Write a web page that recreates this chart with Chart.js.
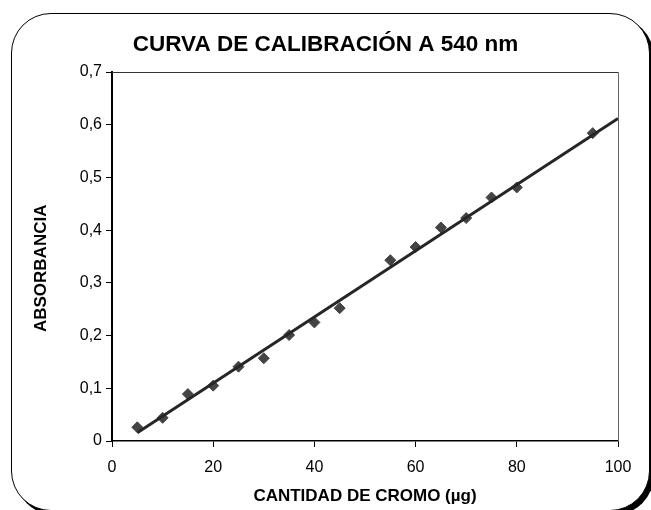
<!DOCTYPE html>
<html>
<head>
<meta charset="utf-8">
<script src="https://cdn.jsdelivr.net/npm/chart.js@4.4.1/dist/chart.umd.min.js"></script>
<style>
  body { margin: 0; background: #fff; }
  #wrap { position: relative; width: 651px; height: 510px; overflow: hidden; background: #fff; }
  #frame {
    position: absolute; left: 11px; top: 13px; width: 637px; height: 496px;
    border: 1.5px solid #000; border-radius: 40px;
    box-shadow: 4px 4px 0 #000; background: #fff;
  }
  #chart { position: absolute; left: 0; top: 0; }
</style>
</head>
<body>
<div id="wrap">
  <div id="frame"></div>
  <canvas id="chart" width="651" height="510"></canvas>
</div>
<script>
// chromium standards (µg) vs absorbance
const cantidad = [5, 10, 15, 20, 25, 30, 35, 40, 45, 55, 60, 65, 70, 75, 80, 95];
const absorbancia = [0.026, 0.044, 0.089, 0.105, 0.141, 0.157, 0.201, 0.225, 0.252,
                     0.343, 0.368, 0.405, 0.423, 0.462, 0.481, 0.584];

// trend line end points
const tendenciaX = [5, 100];
const tendenciaY = [0.0155, 0.612];

const yTickLabels = ['0', '0,1', '0,2', '0,3', '0,4', '0,5', '0,6', '0,7'];
const xTickLabels = ['0', '20', '40', '60', '80', '100'];

const FONT = "'Liberation Sans', Arial, sans-serif";

let puntos = cantidad.map((x, i) => ({x: x, y: absorbancia[i]}));
let tendencia = tendenciaX.map((x, i) => ({x: x, y: tendenciaY[i]}));

// thin lines on top and right of the plot area
const plotBorder = {
  id: 'plotBorder',
  beforeDatasetsDraw(chart) {
    const a = chart.chartArea;
    const ctx = chart.ctx;
    ctx.save();
    ctx.strokeStyle = '#333';
    ctx.lineWidth = 1;
    ctx.beginPath();
    ctx.moveTo(a.left, a.top + 0.5);
    ctx.lineTo(a.right + 0.5, a.top + 0.5);
    ctx.stroke();
    ctx.strokeStyle = '#666';
    ctx.beginPath();
    ctx.moveTo(a.right + 0.5, a.top + 0.5);
    ctx.lineTo(a.right + 0.5, a.bottom);
    ctx.stroke();
    ctx.restore();
  }
};

Chart.defaults.font.family = FONT;
Chart.defaults.color = '#000';

new Chart(document.getElementById('chart').getContext('2d'), {
  type: 'scatter',
  data: {
    datasets: [{
      type: 'line',
      data: tendencia,
      borderColor: '#262626',
      borderWidth: 3,
      pointRadius: 0,
      fill: false,
      order: 0
    }, {
      data: puntos,
      pointStyle: 'rectRot',
      pointRadius: 5.5,
      pointBackgroundColor: '#444',
      pointBorderColor: '#444',
      pointBorderWidth: 1,
      order: 1
    }]
  },
  options: {
    responsive: false,
    animation: false,
    devicePixelRatio: 1,
    layout: { padding: 0 },
    plugins: {
      legend: { display: false },
      tooltip: { enabled: false },
      title: {
        display: true,
        text: 'CURVA DE CALIBRACIÓN A 540 nm',
        color: '#000',
        font: { size: 22.5, weight: 'bold', family: FONT },
        padding: { top: 31, bottom: 14 }
      }
    },
    scales: {
      x: {
        type: 'linear',
        min: 0, max: 100,
        afterFit: (scale) => { scale.height = 69; },
        ticks: {
          stepSize: 20,
          padding: 11,
          font: { size: 16 },
          callback: (v, i) => xTickLabels[i]
        },
        grid: { drawOnChartArea: false, drawTicks: true, tickLength: 6, color: '#000' },
        border: { display: true, color: '#000', width: 1.5 },
        title: {
          display: true,
          text: 'CANTIDAD DE CROMO (µg)',
          font: { size: 17, weight: 'bold' },
          padding: { top: 0, bottom: 3 }
        }
      },
      y: {
        min: 0, max: 0.7,
        afterFit: (scale) => { scale.width = 112; },
        ticks: {
          stepSize: 0.1,
          padding: 4,
          font: { size: 16 },
          callback: (v, i) => yTickLabels[i]
        },
        grid: { drawOnChartArea: false, drawTicks: true, tickLength: 6, color: '#000' },
        border: { display: true, color: '#000', width: 2 },
        title: {
          display: true,
          text: 'ABSORBANCIA     ',
          font: { size: 17, weight: 'bold' },
          padding: { top: 31, bottom: 0 }
        }
      },
      // empty right-hand gutter so the chart title stays centred on the canvas
      gutter: {
        type: 'linear',
        position: 'right',
        display: true,
        afterFit: (scale) => { scale.width = 33; },
        ticks: { display: false },
        grid: { display: false },
        border: { display: false }
      }
    }
  },
  plugins: [plotBorder]
});
</script>
</body>
</html>
